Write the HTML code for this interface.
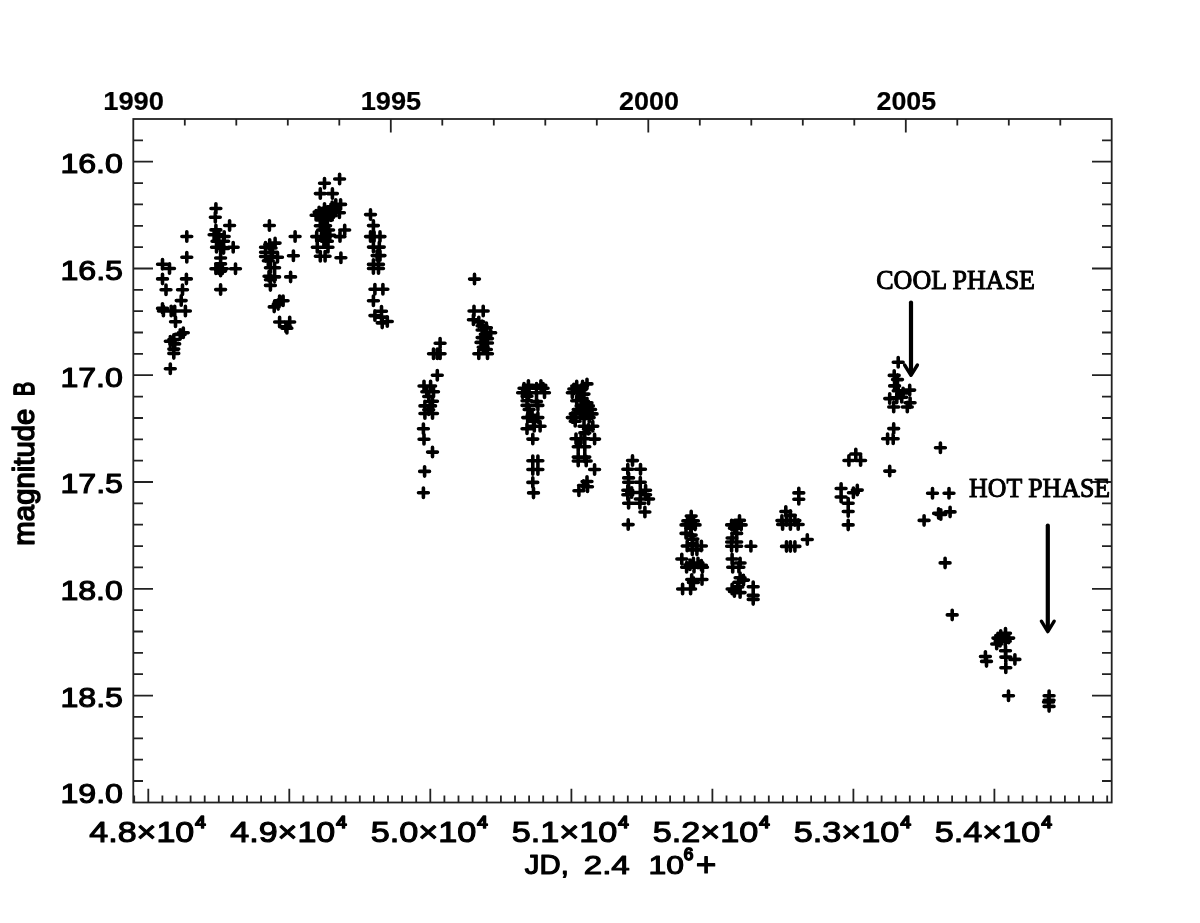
<!DOCTYPE html>
<html lang="en"><head><meta charset="utf-8"><title>Light curve</title>
<style>
html,body{margin:0;padding:0;background:#fff;}
svg{display:block;}
</style></head><body>
<svg width="1200" height="923" viewBox="0 0 1200 923">
<rect width="1200" height="923" fill="#fff"/>
<g stroke="#222" stroke-width="1.8" fill="none" stroke-linecap="butt">
<rect x="133.3" y="119.0" width="978.4" height="683.5"/>
<path d="M133.3 140.3h9.7M1111.7 140.3h-9.7M133.3 161.7h19.7M1111.7 161.7h-19.7M133.3 183.1h9.7M1111.7 183.1h-9.7M133.3 204.4h9.7M1111.7 204.4h-9.7M133.3 225.8h9.7M1111.7 225.8h-9.7M133.3 247.1h9.7M1111.7 247.1h-9.7M133.3 268.5h19.7M1111.7 268.5h-19.7M133.3 289.8h9.7M1111.7 289.8h-9.7M133.3 311.2h9.7M1111.7 311.2h-9.7M133.3 332.5h9.7M1111.7 332.5h-9.7M133.3 353.9h9.7M1111.7 353.9h-9.7M133.3 375.2h19.7M1111.7 375.2h-19.7M133.3 396.6h9.7M1111.7 396.6h-9.7M133.3 418.0h9.7M1111.7 418.0h-9.7M133.3 439.3h9.7M1111.7 439.3h-9.7M133.3 460.7h9.7M1111.7 460.7h-9.7M133.3 482.0h19.7M1111.7 482.0h-19.7M133.3 503.4h9.7M1111.7 503.4h-9.7M133.3 524.7h9.7M1111.7 524.7h-9.7M133.3 546.1h9.7M1111.7 546.1h-9.7M133.3 567.4h9.7M1111.7 567.4h-9.7M133.3 588.8h19.7M1111.7 588.8h-19.7M133.3 610.2h9.7M1111.7 610.2h-9.7M133.3 631.5h9.7M1111.7 631.5h-9.7M133.3 652.9h9.7M1111.7 652.9h-9.7M133.3 674.2h9.7M1111.7 674.2h-9.7M133.3 695.6h19.7M1111.7 695.6h-19.7M133.3 716.9h9.7M1111.7 716.9h-9.7M133.3 738.3h9.7M1111.7 738.3h-9.7M133.3 759.6h9.7M1111.7 759.6h-9.7M133.3 781.0h9.7M1111.7 781.0h-9.7M184.8 119.0v6.5M236.3 119.0v6.5M287.8 119.0v6.5M339.3 119.0v6.5M390.8 119.0v13.5M442.3 119.0v6.5M493.8 119.0v6.5M545.3 119.0v6.5M596.8 119.0v6.5M648.3 119.0v13.5M699.8 119.0v6.5M751.3 119.0v6.5M802.8 119.0v6.5M854.3 119.0v6.5M905.8 119.0v13.5M957.3 119.0v6.5M1008.8 119.0v6.5M1060.3 119.0v6.5M134.2 802.5v-7M148.3 802.5v-13.7M162.4 802.5v-7M176.5 802.5v-7M190.6 802.5v-7M204.7 802.5v-7M218.8 802.5v-7M232.9 802.5v-7M247.0 802.5v-7M261.1 802.5v-7M275.2 802.5v-7M289.3 802.5v-13.7M303.4 802.5v-7M317.5 802.5v-7M331.6 802.5v-7M345.7 802.5v-7M359.8 802.5v-7M373.9 802.5v-7M388.0 802.5v-7M402.1 802.5v-7M416.2 802.5v-7M430.3 802.5v-13.7M444.4 802.5v-7M458.5 802.5v-7M472.6 802.5v-7M486.7 802.5v-7M500.9 802.5v-7M515.0 802.5v-7M529.1 802.5v-7M543.2 802.5v-7M557.3 802.5v-7M571.4 802.5v-13.7M585.5 802.5v-7M599.6 802.5v-7M613.7 802.5v-7M627.8 802.5v-7M641.9 802.5v-7M656.0 802.5v-7M670.1 802.5v-7M684.2 802.5v-7M698.3 802.5v-7M712.4 802.5v-13.7M726.5 802.5v-7M740.6 802.5v-7M754.7 802.5v-7M768.8 802.5v-7M782.9 802.5v-7M797.0 802.5v-7M811.1 802.5v-7M825.2 802.5v-7M839.3 802.5v-7M853.4 802.5v-13.7M867.5 802.5v-7M881.6 802.5v-7M895.7 802.5v-7M909.8 802.5v-7M923.9 802.5v-7M938.0 802.5v-7M952.1 802.5v-7M966.2 802.5v-7M980.3 802.5v-7M994.4 802.5v-13.7M1008.5 802.5v-7M1022.6 802.5v-7M1036.7 802.5v-7M1050.8 802.5v-7M1064.9 802.5v-7M1079.0 802.5v-7M1093.1 802.5v-7M1107.2 802.5v-7"/>
</g>
<text transform="translate(103.19 110.24) scale(0.2736 0.2615)" font-family='"Liberation Sans",sans-serif' font-size="100" font-weight="bold" fill="#000" stroke="#000" stroke-width="0.2" stroke-linejoin="round" vector-effect="non-scaling-stroke">1990</text>
<text transform="translate(360.70 110.24) scale(0.2720 0.2615)" font-family='"Liberation Sans",sans-serif' font-size="100" font-weight="bold" fill="#000" stroke="#000" stroke-width="0.2" stroke-linejoin="round" vector-effect="non-scaling-stroke">1995</text>
<text transform="translate(618.95 110.24) scale(0.2701 0.2615)" font-family='"Liberation Sans",sans-serif' font-size="100" font-weight="bold" fill="#000" stroke="#000" stroke-width="0.2" stroke-linejoin="round" vector-effect="non-scaling-stroke">2000</text>
<text transform="translate(876.46 110.24) scale(0.2685 0.2615)" font-family='"Liberation Sans",sans-serif' font-size="100" font-weight="bold" fill="#000" stroke="#000" stroke-width="0.2" stroke-linejoin="round" vector-effect="non-scaling-stroke">2005</text>
<text transform="translate(60.39 173.01) scale(0.3214 0.2855)" font-family='"Liberation Sans",sans-serif' font-size="100" fill="#000" stroke="#000" stroke-width="1.2" stroke-linejoin="round" vector-effect="non-scaling-stroke">16.0</text>
<text transform="translate(60.39 279.79) scale(0.3219 0.2855)" font-family='"Liberation Sans",sans-serif' font-size="100" fill="#000" stroke="#000" stroke-width="1.2" stroke-linejoin="round" vector-effect="non-scaling-stroke">16.5</text>
<text transform="translate(60.39 386.56) scale(0.3214 0.2855)" font-family='"Liberation Sans",sans-serif' font-size="100" fill="#000" stroke="#000" stroke-width="1.2" stroke-linejoin="round" vector-effect="non-scaling-stroke">17.0</text>
<text transform="translate(60.39 493.34) scale(0.3219 0.2855)" font-family='"Liberation Sans",sans-serif' font-size="100" fill="#000" stroke="#000" stroke-width="1.2" stroke-linejoin="round" vector-effect="non-scaling-stroke">17.5</text>
<text transform="translate(60.39 600.11) scale(0.3214 0.2855)" font-family='"Liberation Sans",sans-serif' font-size="100" fill="#000" stroke="#000" stroke-width="1.2" stroke-linejoin="round" vector-effect="non-scaling-stroke">18.0</text>
<text transform="translate(60.39 706.89) scale(0.3219 0.2855)" font-family='"Liberation Sans",sans-serif' font-size="100" fill="#000" stroke="#000" stroke-width="1.2" stroke-linejoin="round" vector-effect="non-scaling-stroke">18.5</text>
<text transform="translate(60.39 802.82) scale(0.3214 0.2841)" font-family='"Liberation Sans",sans-serif' font-size="100" fill="#000" stroke="#000" stroke-width="1.2" stroke-linejoin="round" vector-effect="non-scaling-stroke">19.0</text>
<text transform="translate(89.28 841.71) scale(0.3403 0.2926)" font-family='"Liberation Sans",sans-serif' font-size="100" fill="#000" stroke="#000" stroke-width="1.2" stroke-linejoin="round" vector-effect="non-scaling-stroke">4.8×10</text>
<text transform="translate(195.28 827.74) scale(0.1881 0.1640)" font-family='"Liberation Sans",sans-serif' font-size="100" fill="#000" stroke="#000" stroke-width="1.8" stroke-linejoin="round" vector-effect="non-scaling-stroke">4</text>
<text transform="translate(230.30 841.71) scale(0.3403 0.2926)" font-family='"Liberation Sans",sans-serif' font-size="100" fill="#000" stroke="#000" stroke-width="1.2" stroke-linejoin="round" vector-effect="non-scaling-stroke">4.9×10</text>
<text transform="translate(336.30 827.74) scale(0.1881 0.1640)" font-family='"Liberation Sans",sans-serif' font-size="100" fill="#000" stroke="#000" stroke-width="1.8" stroke-linejoin="round" vector-effect="non-scaling-stroke">4</text>
<text transform="translate(370.72 841.71) scale(0.3423 0.2926)" font-family='"Liberation Sans",sans-serif' font-size="100" fill="#000" stroke="#000" stroke-width="1.2" stroke-linejoin="round" vector-effect="non-scaling-stroke">5.0×10</text>
<text transform="translate(477.32 827.74) scale(0.1881 0.1640)" font-family='"Liberation Sans",sans-serif' font-size="100" fill="#000" stroke="#000" stroke-width="1.8" stroke-linejoin="round" vector-effect="non-scaling-stroke">4</text>
<text transform="translate(511.74 841.71) scale(0.3423 0.2926)" font-family='"Liberation Sans",sans-serif' font-size="100" fill="#000" stroke="#000" stroke-width="1.2" stroke-linejoin="round" vector-effect="non-scaling-stroke">5.1×10</text>
<text transform="translate(618.34 827.74) scale(0.1881 0.1640)" font-family='"Liberation Sans",sans-serif' font-size="100" fill="#000" stroke="#000" stroke-width="1.8" stroke-linejoin="round" vector-effect="non-scaling-stroke">4</text>
<text transform="translate(652.76 841.71) scale(0.3423 0.2926)" font-family='"Liberation Sans",sans-serif' font-size="100" fill="#000" stroke="#000" stroke-width="1.2" stroke-linejoin="round" vector-effect="non-scaling-stroke">5.2×10</text>
<text transform="translate(759.36 827.74) scale(0.1881 0.1640)" font-family='"Liberation Sans",sans-serif' font-size="100" fill="#000" stroke="#000" stroke-width="1.8" stroke-linejoin="round" vector-effect="non-scaling-stroke">4</text>
<text transform="translate(793.78 841.71) scale(0.3423 0.2926)" font-family='"Liberation Sans",sans-serif' font-size="100" fill="#000" stroke="#000" stroke-width="1.2" stroke-linejoin="round" vector-effect="non-scaling-stroke">5.3×10</text>
<text transform="translate(900.38 827.74) scale(0.1881 0.1640)" font-family='"Liberation Sans",sans-serif' font-size="100" fill="#000" stroke="#000" stroke-width="1.8" stroke-linejoin="round" vector-effect="non-scaling-stroke">4</text>
<text transform="translate(934.80 841.71) scale(0.3423 0.2926)" font-family='"Liberation Sans",sans-serif' font-size="100" fill="#000" stroke="#000" stroke-width="1.2" stroke-linejoin="round" vector-effect="non-scaling-stroke">5.4×10</text>
<text transform="translate(1041.40 827.74) scale(0.1881 0.1640)" font-family='"Liberation Sans",sans-serif' font-size="100" fill="#000" stroke="#000" stroke-width="1.8" stroke-linejoin="round" vector-effect="non-scaling-stroke">4</text>
<text transform="translate(524.86 873.90) scale(0.2932 0.2705)" font-family='"Liberation Sans",sans-serif' font-size="100" fill="#000" stroke="#000" stroke-width="1.2" stroke-linejoin="round" vector-effect="non-scaling-stroke">JD,</text>
<text transform="translate(583.74 873.64) scale(0.3314 0.2629)" font-family='"Liberation Sans",sans-serif' font-size="100" fill="#000" stroke="#000" stroke-width="1.2" stroke-linejoin="round" vector-effect="non-scaling-stroke">2.4</text>
<text transform="translate(648.51 873.64) scale(0.3188 0.2629)" font-family='"Liberation Sans",sans-serif' font-size="100" fill="#000" stroke="#000" stroke-width="1.2" stroke-linejoin="round" vector-effect="non-scaling-stroke">10</text>
<text transform="translate(683.85 860.34) scale(0.1708 0.1640)" font-family='"Liberation Sans",sans-serif' font-size="100" fill="#000" stroke="#000" stroke-width="1.8" stroke-linejoin="round" vector-effect="non-scaling-stroke">6</text>
<text transform="translate(695.78 876.28) scale(0.3546 0.3347)" font-family='"Liberation Sans",sans-serif' font-size="100" fill="#000" stroke="#000" stroke-width="1.1" stroke-linejoin="round" vector-effect="non-scaling-stroke">+</text>
<text transform="translate(34.70 544.40) rotate(-90) translate(-1.23 -0.75) scale(0.2936 0.2909)" font-family='"Liberation Sans",sans-serif' font-size="100" fill="#000" stroke="#000" stroke-width="1.5" stroke-linejoin="round" vector-effect="non-scaling-stroke">magnitude</text>
<text transform="translate(34.70 544.40) rotate(-90) translate(148.50 -0.75) scale(0.2122 0.2909)" font-family='"Liberation Sans",sans-serif' font-size="100" fill="#000" stroke="#000" stroke-width="1.5" stroke-linejoin="round" vector-effect="non-scaling-stroke">B</text>
<text transform="translate(876.26 289.20) scale(0.2603 0.2779)" font-family='"Liberation Serif",serif' font-size="100" fill="#000" stroke="#000" stroke-width="1.0" stroke-linejoin="round" vector-effect="non-scaling-stroke">COOL PHASE</text>
<text transform="translate(969.12 497.10) scale(0.2584 0.2794)" font-family='"Liberation Serif",serif' font-size="100" fill="#000" stroke="#000" stroke-width="1.0" stroke-linejoin="round" vector-effect="non-scaling-stroke">HOT PHASE</text>
<g stroke="#000" fill="none" stroke-linecap="round" stroke-linejoin="round">
<path d="M911 302.5V373" stroke-width="4.2"/><path d="M904.6 365L911 375.3L917.4 365" stroke-width="3.4"/>
<path d="M1047.8 525.5V629" stroke-width="4.2"/><path d="M1041.4 621.2L1047.8 631.6L1054.2 621.2" stroke-width="3.4"/>
</g>
<path d="M181.9 236.5h9.8M186.8 231.8v9.4M181.9 257.3h9.8M186.8 252.6v9.4M157.6 264.2h9.8M162.5 259.5v9.4M164.6 268.5h9.8M169.5 263.8v9.4M157.6 278.9h9.8M162.5 274.2v9.4M181.5 278.9h9.8M186.4 274.2v9.4M161.1 289.7h9.8M166.0 285.0v9.4M177.6 289.7h9.8M182.5 285.0v9.4M176.3 300.6h9.8M181.2 295.9v9.4M157.6 308.4h9.8M162.5 303.7v9.4M158.5 311.0h9.8M163.4 306.3v9.4M166.3 311.0h9.8M171.2 306.3v9.4M169.8 311.0h9.8M174.7 306.3v9.4M180.5 311.0h9.8M185.4 306.3v9.4M170.6 321.7h9.8M175.5 317.0v9.4M178.4 332.7h9.8M183.3 328.0v9.4M175.3 334.4h9.8M180.2 329.7v9.4M165.4 341.3h9.8M170.3 336.6v9.4M168.9 339.6h9.8M173.8 334.9v9.4M169.8 343.9h9.8M174.7 339.2v9.4M168.9 349.1h9.8M173.8 344.4v9.4M168.9 353.4h9.8M173.8 348.7v9.4M165.4 368.7h9.8M170.3 364.0v9.4M211.0 208.5h9.8M215.9 203.8v9.4M210.4 217.2h9.8M215.3 212.5v9.4M224.7 225.5h9.8M229.6 220.8v9.4M211.0 229.9h9.8M215.9 225.2v9.4M209.2 234.7h9.8M214.1 230.0v9.4M213.9 234.7h9.8M218.8 230.0v9.4M219.3 236.5h9.8M224.2 231.8v9.4M212.1 241.3h9.8M217.0 236.6v9.4M218.7 241.3h9.8M223.6 236.6v9.4M211.6 247.2h9.8M216.5 242.5v9.4M215.7 247.2h9.8M220.6 242.5v9.4M218.7 248.4h9.8M223.6 243.7v9.4M228.3 247.2h9.8M233.2 242.5v9.4M215.7 258.0h9.8M220.6 253.3v9.4M215.7 263.9h9.8M220.6 259.2v9.4M211.0 268.7h9.8M215.9 264.0v9.4M213.9 268.7h9.8M218.8 264.0v9.4M217.5 268.7h9.8M222.4 264.0v9.4M215.7 271.1h9.8M220.6 266.4v9.4M230.6 268.7h9.8M235.5 264.0v9.4M215.7 289.6h9.8M220.6 284.9v9.4M264.5 225.5h9.8M269.4 220.8v9.4M290.2 236.5h9.8M295.1 231.8v9.4M270.2 243.1h9.8M275.1 238.4v9.4M264.8 244.5h9.8M269.7 239.8v9.4M260.6 247.3h9.8M265.5 242.6v9.4M266.2 248.0h9.8M271.1 243.3v9.4M260.6 252.3h9.8M265.5 247.6v9.4M267.6 252.3h9.8M272.5 247.6v9.4M260.6 256.5h9.8M265.5 251.8v9.4M266.2 256.5h9.8M271.1 251.8v9.4M272.6 257.2h9.8M277.5 252.5v9.4M288.5 255.8h9.8M293.4 251.1v9.4M263.4 260.7h9.8M268.3 256.0v9.4M265.5 267.7h9.8M270.4 263.0v9.4M269.7 267.7h9.8M274.6 263.0v9.4M264.1 276.2h9.8M269.0 271.5v9.4M269.7 276.9h9.8M274.6 272.2v9.4M265.5 279.7h9.8M270.4 275.0v9.4M285.7 276.9h9.8M290.6 272.2v9.4M265.5 285.4h9.8M270.4 280.7v9.4M274.7 300.8h9.8M279.6 296.1v9.4M278.2 300.8h9.8M283.1 296.1v9.4M273.3 304.4h9.8M278.2 299.7v9.4M269.3 306.9h9.8M274.2 302.2v9.4M274.7 322.0h9.8M279.6 317.3v9.4M284.8 322.0h9.8M289.7 317.3v9.4M281.0 326.9h9.8M285.9 322.2v9.4M282.0 328.3h9.8M286.9 323.6v9.4M334.7 179.0h9.8M339.6 174.3v9.4M319.6 183.3h9.8M324.5 178.6v9.4M315.4 193.6h9.8M320.3 188.9v9.4M327.5 193.6h9.8M332.4 188.9v9.4M330.9 204.4h9.8M335.8 199.7v9.4M335.7 204.4h9.8M340.6 199.7v9.4M319.6 208.5h9.8M324.5 203.8v9.4M327.3 206.8h9.8M332.2 202.1v9.4M330.9 209.1h9.8M335.8 204.4v9.4M334.5 212.7h9.8M339.4 208.0v9.4M314.2 212.1h9.8M319.1 207.4v9.4M319.0 212.1h9.8M323.9 207.4v9.4M323.7 212.1h9.8M328.6 207.4v9.4M328.5 212.7h9.8M333.4 208.0v9.4M311.2 215.3h9.8M316.1 210.6v9.4M316.6 215.7h9.8M321.5 211.0v9.4M321.3 215.7h9.8M326.2 211.0v9.4M326.1 215.7h9.8M331.0 211.0v9.4M322.5 219.9h9.8M327.4 215.2v9.4M317.8 219.9h9.8M322.7 215.2v9.4M315.4 225.8h9.8M320.3 221.1v9.4M320.7 225.8h9.8M325.6 221.1v9.4M317.8 230.0h9.8M322.7 225.3v9.4M323.7 230.0h9.8M328.6 225.3v9.4M339.8 230.0h9.8M344.7 225.3v9.4M311.8 236.6h9.8M316.7 231.9v9.4M316.6 236.6h9.8M321.5 231.9v9.4M320.7 236.6h9.8M325.6 231.9v9.4M324.9 235.4h9.8M329.8 230.7v9.4M335.1 236.6h9.8M340.0 231.9v9.4M319.0 240.2h9.8M323.9 235.5v9.4M322.5 241.3h9.8M327.4 236.6v9.4M312.4 247.3h9.8M317.3 242.6v9.4M323.1 247.3h9.8M328.0 242.6v9.4M315.4 256.3h9.8M320.3 251.6v9.4M320.2 256.3h9.8M325.1 251.6v9.4M336.0 257.8h9.8M340.9 253.1v9.4M365.6 214.6h9.8M370.5 209.9v9.4M368.5 225.6h9.8M373.4 220.9v9.4M365.6 236.6h9.8M370.5 231.9v9.4M369.2 236.6h9.8M374.1 231.9v9.4M375.1 236.6h9.8M380.0 231.9v9.4M368.5 247.1h9.8M373.4 242.4v9.4M374.4 247.1h9.8M379.3 242.4v9.4M372.2 255.6h9.8M377.1 250.9v9.4M375.1 255.6h9.8M380.0 250.9v9.4M368.5 264.4h9.8M373.4 259.7v9.4M373.6 264.4h9.8M378.5 259.7v9.4M368.5 268.5h9.8M373.4 263.8v9.4M373.6 268.5h9.8M378.5 263.8v9.4M370.0 289.3h9.8M374.9 284.6v9.4M378.0 289.3h9.8M382.9 284.6v9.4M368.5 300.7h9.8M373.4 296.0v9.4M376.6 311.2h9.8M381.5 306.5v9.4M370.0 315.6h9.8M374.9 310.9v9.4M376.6 317.1h9.8M381.5 312.4v9.4M382.4 321.5h9.8M387.3 316.8v9.4M377.3 322.9h9.8M382.2 318.2v9.4M435.2 343.3h9.8M440.1 338.6v9.4M428.6 353.7h9.8M433.5 349.0v9.4M432.4 353.7h9.8M437.3 349.0v9.4M435.2 353.7h9.8M440.1 349.0v9.4M432.4 375.2h9.8M437.3 370.5v9.4M419.1 386.0h9.8M424.0 381.3v9.4M425.7 386.0h9.8M430.6 381.3v9.4M421.9 391.7h9.8M426.8 387.0v9.4M428.6 391.7h9.8M433.5 387.0v9.4M423.8 396.5h9.8M428.7 391.8v9.4M427.6 401.2h9.8M432.5 396.5v9.4M420.0 405.9h9.8M424.9 401.2v9.4M425.7 405.9h9.8M430.6 401.2v9.4M423.8 409.7h9.8M428.7 405.0v9.4M420.0 413.5h9.8M424.9 408.8v9.4M427.6 413.5h9.8M432.5 408.8v9.4M418.5 428.7h9.8M423.4 424.0v9.4M419.1 439.2h9.8M424.0 434.5v9.4M427.6 452.1h9.8M432.5 447.4v9.4M419.7 471.4h9.8M424.6 466.7v9.4M418.5 492.7h9.8M423.4 488.0v9.4M469.6 279.1h9.8M474.5 274.4v9.4M469.1 311.0h9.8M474.0 306.3v9.4M478.3 311.0h9.8M483.2 306.3v9.4M468.5 319.7h9.8M473.4 315.0v9.4M473.9 321.9h9.8M478.8 317.2v9.4M477.2 325.7h9.8M482.1 321.0v9.4M481.5 327.8h9.8M486.4 323.1v9.4M477.2 330.0h9.8M482.1 325.3v9.4M485.8 332.7h9.8M490.7 328.0v9.4M480.4 334.3h9.8M485.3 329.6v9.4M477.2 337.6h9.8M482.1 332.9v9.4M482.6 338.6h9.8M487.5 333.9v9.4M476.1 342.4h9.8M481.0 337.7v9.4M482.6 343.0h9.8M487.5 338.3v9.4M478.3 347.3h9.8M483.2 342.6v9.4M481.5 349.5h9.8M486.4 344.8v9.4M473.9 353.8h9.8M478.8 349.1v9.4M482.6 353.8h9.8M487.5 349.1v9.4M523.5 385.4h9.8M528.4 380.7v9.4M536.0 385.4h9.8M540.9 380.7v9.4M519.1 388.3h9.8M524.0 383.6v9.4M531.6 388.3h9.8M536.5 383.6v9.4M538.2 388.3h9.8M543.1 383.6v9.4M517.7 392.7h9.8M522.6 388.0v9.4M524.2 392.7h9.8M529.1 388.0v9.4M531.6 392.7h9.8M536.5 388.0v9.4M539.6 392.7h9.8M544.5 388.0v9.4M522.1 396.3h9.8M527.0 391.6v9.4M522.1 400.7h9.8M527.0 396.0v9.4M531.6 401.5h9.8M536.5 396.8v9.4M522.1 405.4h9.8M527.0 400.7v9.4M533.0 405.4h9.8M537.9 400.7v9.4M524.2 409.5h9.8M529.1 404.8v9.4M527.2 415.4h9.8M532.1 410.7v9.4M522.8 417.6h9.8M527.7 412.9v9.4M533.0 417.6h9.8M537.9 412.9v9.4M528.6 421.2h9.8M533.5 416.5v9.4M535.2 426.3h9.8M540.1 421.6v9.4M529.4 426.3h9.8M534.3 421.6v9.4M522.1 428.8h9.8M527.0 424.1v9.4M527.9 439.1h9.8M532.8 434.4v9.4M527.9 460.7h9.8M532.8 456.0v9.4M533.0 460.7h9.8M537.9 456.0v9.4M527.9 469.5h9.8M532.8 464.8v9.4M533.0 469.5h9.8M537.9 464.8v9.4M527.9 482.4h9.8M532.8 477.7v9.4M528.6 492.9h9.8M533.5 488.2v9.4M582.1 383.9h9.8M587.0 379.2v9.4M571.8 386.1h9.8M576.7 381.4v9.4M577.7 386.1h9.8M582.6 381.4v9.4M568.9 389.0h9.8M573.8 384.3v9.4M576.2 389.8h9.8M581.1 385.1v9.4M567.4 392.7h9.8M572.3 388.0v9.4M573.3 392.7h9.8M578.2 388.0v9.4M579.1 394.1h9.8M584.0 389.4v9.4M571.8 400.7h9.8M576.7 396.0v9.4M576.2 399.3h9.8M581.1 394.6v9.4M582.1 402.9h9.8M587.0 398.2v9.4M576.2 405.9h9.8M581.1 401.2v9.4M583.5 405.9h9.8M588.4 401.2v9.4M573.3 409.5h9.8M578.2 404.8v9.4M579.1 409.5h9.8M584.0 404.8v9.4M585.7 409.5h9.8M590.6 404.8v9.4M570.3 413.9h9.8M575.2 409.2v9.4M576.2 413.9h9.8M581.1 409.2v9.4M581.3 413.9h9.8M586.2 409.2v9.4M587.2 413.9h9.8M592.1 409.2v9.4M567.4 417.6h9.8M572.3 412.9v9.4M579.1 417.6h9.8M584.0 412.9v9.4M584.3 417.6h9.8M589.2 412.9v9.4M570.3 421.2h9.8M575.2 416.5v9.4M579.1 426.3h9.8M584.0 421.6v9.4M587.9 426.3h9.8M592.8 421.6v9.4M583.5 429.3h9.8M588.4 424.6v9.4M579.9 432.9h9.8M584.8 428.2v9.4M571.1 438.8h9.8M576.0 434.1v9.4M576.2 438.8h9.8M581.1 434.1v9.4M579.9 438.8h9.8M584.8 434.1v9.4M589.7 439.1h9.8M594.6 434.4v9.4M573.3 446.8h9.8M578.2 442.1v9.4M579.9 446.8h9.8M584.8 442.1v9.4M573.3 457.1h9.8M578.2 452.4v9.4M579.9 457.1h9.8M584.8 452.4v9.4M573.3 461.0h9.8M578.2 456.3v9.4M581.3 461.0h9.8M586.2 456.3v9.4M589.7 469.5h9.8M594.6 464.8v9.4M574.0 490.7h9.8M578.9 486.0v9.4M582.1 481.5h9.8M587.0 476.8v9.4M578.6 485.5h9.8M583.5 480.8v9.4M582.6 486.8h9.8M587.5 482.1v9.4M627.6 460.6h9.8M632.5 455.9v9.4M622.9 469.2h9.8M627.8 464.5v9.4M635.6 469.2h9.8M640.5 464.5v9.4M623.7 477.9h9.8M628.6 473.2v9.4M623.7 482.3h9.8M628.6 477.6v9.4M635.4 482.3h9.8M640.3 477.6v9.4M622.9 490.3h9.8M627.8 485.6v9.4M626.8 492.5h9.8M631.7 487.8v9.4M622.9 494.7h9.8M627.8 490.0v9.4M635.4 492.5h9.8M640.3 487.8v9.4M640.7 490.3h9.8M645.6 485.6v9.4M640.7 494.7h9.8M645.6 490.0v9.4M643.7 499.0h9.8M648.6 494.3v9.4M635.4 499.0h9.8M640.3 494.3v9.4M623.7 503.3h9.8M628.6 498.6v9.4M635.0 503.3h9.8M639.9 498.6v9.4M640.0 512.0h9.8M644.9 507.3v9.4M623.3 524.6h9.8M628.2 519.9v9.4M686.3 516.1h9.8M691.2 511.4v9.4M682.9 520.9h9.8M687.8 516.2v9.4M688.5 520.9h9.8M693.4 516.2v9.4M681.1 524.9h9.8M686.0 520.2v9.4M685.7 524.9h9.8M690.6 520.2v9.4M690.2 524.9h9.8M695.1 520.2v9.4M685.7 528.3h9.8M690.6 523.6v9.4M681.1 533.4h9.8M686.0 528.7v9.4M686.3 535.1h9.8M691.2 530.4v9.4M688.0 539.1h9.8M692.9 534.4v9.4M682.3 546.0h9.8M687.2 541.3v9.4M687.4 543.7h9.8M692.3 539.0v9.4M692.0 546.0h9.8M696.9 541.3v9.4M696.5 546.0h9.8M701.4 541.3v9.4M687.4 549.9h9.8M692.3 545.2v9.4M692.0 549.9h9.8M696.9 545.2v9.4M676.9 559.0h9.8M681.8 554.3v9.4M688.5 563.0h9.8M693.4 558.3v9.4M693.1 563.0h9.8M698.0 558.3v9.4M685.1 564.7h9.8M690.0 560.0v9.4M696.5 565.3h9.8M701.4 560.6v9.4M681.7 567.3h9.8M686.6 562.6v9.4M689.1 567.3h9.8M694.0 562.6v9.4M697.6 567.3h9.8M702.5 562.6v9.4M686.8 579.5h9.8M691.7 574.8v9.4M697.1 579.5h9.8M702.0 574.8v9.4M688.5 582.4h9.8M693.4 577.7v9.4M677.7 589.0h9.8M682.6 584.3v9.4M685.7 589.0h9.8M690.6 584.3v9.4M734.6 520.4h9.8M739.5 515.7v9.4M726.7 524.9h9.8M731.6 520.2v9.4M731.8 524.9h9.8M736.7 520.2v9.4M736.3 524.9h9.8M741.2 520.2v9.4M729.5 528.3h9.8M734.4 523.6v9.4M731.8 533.4h9.8M736.7 528.7v9.4M727.2 538.0h9.8M732.1 533.3v9.4M731.8 542.0h9.8M736.7 537.3v9.4M726.7 542.0h9.8M731.6 537.3v9.4M726.7 546.2h9.8M731.6 541.5v9.4M731.8 546.2h9.8M736.7 541.5v9.4M746.0 546.2h9.8M750.9 541.5v9.4M727.2 559.0h9.8M732.1 554.3v9.4M735.2 563.0h9.8M740.1 558.3v9.4M727.8 567.3h9.8M732.7 562.6v9.4M734.0 567.3h9.8M738.9 562.6v9.4M735.2 577.8h9.8M740.1 573.1v9.4M738.6 580.1h9.8M743.5 575.4v9.4M734.0 582.4h9.8M738.9 577.7v9.4M727.2 589.0h9.8M732.1 584.3v9.4M732.9 586.9h9.8M737.8 582.2v9.4M748.3 586.7h9.8M753.2 582.0v9.4M729.5 591.5h9.8M734.4 586.8v9.4M735.2 592.6h9.8M740.1 587.9v9.4M748.3 595.4h9.8M753.2 590.7v9.4M748.3 599.4h9.8M753.2 594.7v9.4M793.9 492.9h9.8M798.8 488.2v9.4M793.9 499.2h9.8M798.8 494.5v9.4M780.9 511.5h9.8M785.8 506.8v9.4M785.5 515.4h9.8M790.4 510.7v9.4M777.0 520.6h9.8M781.9 515.9v9.4M781.6 520.6h9.8M786.5 515.9v9.4M790.0 520.6h9.8M794.9 515.9v9.4M777.7 524.5h9.8M782.6 519.8v9.4M785.5 524.5h9.8M790.4 519.8v9.4M793.3 524.5h9.8M798.2 519.8v9.4M802.4 539.5h9.8M807.3 534.8v9.4M781.6 546.4h9.8M786.5 541.7v9.4M785.5 546.4h9.8M790.4 541.7v9.4M790.0 546.4h9.8M794.9 541.7v9.4M850.9 454.0h9.8M855.8 449.3v9.4M844.0 460.5h9.8M848.9 455.8v9.4M855.7 460.5h9.8M860.6 455.8v9.4M836.2 488.5h9.8M841.1 483.8v9.4M852.4 490.1h9.8M857.3 485.4v9.4M848.5 492.7h9.8M853.4 488.0v9.4M836.2 497.0h9.8M841.1 492.3v9.4M843.3 503.3h9.8M848.2 498.6v9.4M843.3 511.5h9.8M848.2 506.8v9.4M843.3 524.9h9.8M848.2 520.2v9.4M893.3 362.3h9.8M898.2 357.6v9.4M889.3 375.4h9.8M894.2 370.7v9.4M892.6 379.6h9.8M897.5 374.9v9.4M889.7 385.9h9.8M894.6 381.2v9.4M893.3 390.8h9.8M898.2 386.1v9.4M904.8 390.1h9.8M909.7 385.4v9.4M898.2 393.0h9.8M903.1 388.3v9.4M884.8 398.6h9.8M889.7 393.9v9.4M891.9 397.9h9.8M896.8 393.2v9.4M896.8 397.2h9.8M901.7 392.5v9.4M905.2 402.8h9.8M910.1 398.1v9.4M888.8 407.0h9.8M893.7 402.3v9.4M902.4 407.0h9.8M907.3 402.3v9.4M888.8 428.6h9.8M893.7 423.9v9.4M882.7 438.7h9.8M887.6 434.0v9.4M888.3 438.7h9.8M893.2 434.0v9.4M884.8 471.1h9.8M889.7 466.4v9.4M935.5 447.8h9.8M940.4 443.1v9.4M927.6 493.3h9.8M932.5 488.6v9.4M944.1 493.3h9.8M949.0 488.6v9.4M933.7 513.4h9.8M938.6 508.7v9.4M935.9 514.5h9.8M940.8 509.8v9.4M945.2 511.9h9.8M950.1 507.2v9.4M919.2 520.4h9.8M924.1 515.7v9.4M940.2 562.9h9.8M945.1 558.2v9.4M947.3 614.9h9.8M952.2 610.2v9.4M1000.6 633.2h9.8M1005.5 628.5v9.4M995.8 635.5h9.8M1000.7 630.8v9.4M993.0 638.1h9.8M997.9 633.4v9.4M1003.8 638.1h9.8M1008.7 633.4v9.4M995.2 641.2h9.8M1000.1 636.5v9.4M1000.4 641.2h9.8M1005.3 636.5v9.4M991.8 644.0h9.8M996.7 639.3v9.4M1000.6 650.8h9.8M1005.5 646.1v9.4M980.5 656.5h9.8M985.4 651.8v9.4M981.6 661.4h9.8M986.5 656.7v9.4M1000.9 657.1h9.8M1005.8 652.4v9.4M1010.0 659.4h9.8M1014.9 654.7v9.4M1000.9 667.7h9.8M1005.8 663.0v9.4M1003.6 695.8h9.8M1008.5 691.1v9.4M1044.2 695.8h9.8M1049.1 691.1v9.4M1044.2 700.3h9.8M1049.1 695.6v9.4M1043.6 702.0h9.8M1048.5 697.3v9.4M1044.2 706.4h9.8M1049.1 701.7v9.4" stroke="#000" stroke-width="3.6" stroke-linecap="round" fill="none"/>
</svg></body></html>
